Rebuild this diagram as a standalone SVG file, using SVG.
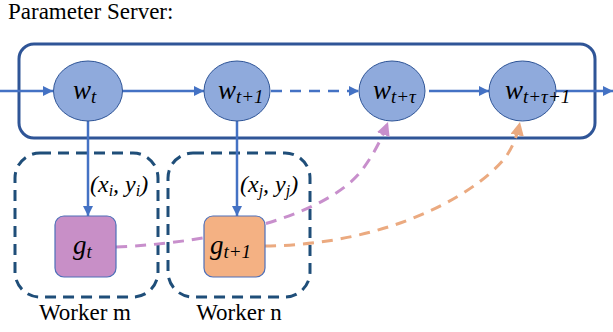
<svg xmlns="http://www.w3.org/2000/svg" width="613" height="332" viewBox="0 0 613 332">
<style>
.node{fill:#8FAADC;stroke:#2F5597;stroke-width:1}
.math{font-family:"Liberation Serif","DejaVu Serif",serif;font-style:italic;fill:#000}
.lbl{font-family:"Liberation Serif","Times New Roman",serif;font-size:23px;fill:#000}
.arr{stroke:#4472C4;stroke-width:2.5;fill:none}
.worker{fill:none;stroke:#1F4E79;stroke-width:3;stroke-dasharray:11 7}
</style>
<defs>
<marker id="ah" viewBox="0 0 10 10" refX="10" refY="5" markerWidth="4" markerHeight="4" orient="auto" markerUnits="strokeWidth">
<path d="M0,0 L10,5 L0,10 z" fill="#4472C4"/>
</marker>
<marker id="ahp" viewBox="0 0 10 10" refX="10" refY="5" markerWidth="4.5" markerHeight="4.5" orient="auto" markerUnits="strokeWidth">
<path d="M0,0 L10,5 L0,10 z" fill="#C88FCC"/>
</marker>
<marker id="aho" viewBox="0 0 10 10" refX="10" refY="5" markerWidth="4.5" markerHeight="4.5" orient="auto" markerUnits="strokeWidth">
<path d="M0,0 L10,5 L0,10 z" fill="#EBAA80"/>
</marker>
</defs>
<rect width="613" height="332" fill="#fff"/>
<text class="lbl" x="8" y="19">Parameter Server:</text>
<rect id="server" x="19" y="44" width="576" height="94" rx="15" fill="none" stroke="#2F5597" stroke-width="3"/>
<g id="worker-m"><rect class="worker" x="15" y="153" width="143" height="144" rx="25"/><text class="lbl" x="85" y="320" text-anchor="middle">Worker m</text></g>
<g id="worker-n"><rect class="worker" x="168" y="153" width="142" height="144" rx="25"/><text class="lbl" x="239" y="320" text-anchor="middle">Worker n</text></g>
<g id="connectors">
<line class="arr" x1="0" y1="91" x2="53" y2="91" marker-end="url(#ah)"/>
<line class="arr" x1="122" y1="91" x2="204" y2="91" marker-end="url(#ah)"/>
<line class="arr" x1="271" y1="91" x2="359" y2="91" stroke-dasharray="11 8" marker-end="url(#ah)"/>
<line class="arr" x1="429" y1="91" x2="489" y2="91" marker-end="url(#ah)"/>
<line class="arr" x1="556" y1="91" x2="613" y2="91" marker-end="url(#ah)"/>
<line class="arr" x1="88" y1="121" x2="88" y2="216" marker-end="url(#ah)"/>
<line class="arr" x1="237" y1="121" x2="237" y2="216" marker-end="url(#ah)"/>
<path d="M116,247 C230,242 330,212 362,170 C374,154 382,138 388,122" fill="none" stroke="#C88FCC" stroke-width="3" stroke-dasharray="11 8" marker-end="url(#ahp)"/>
<path d="M265,246 C380,245 470,200 505,158 C513,147 517,136 520,122" fill="none" stroke="#EBAA80" stroke-width="3" stroke-dasharray="11 8" marker-end="url(#aho)"/>
</g>
<g id="w_t"><ellipse class="node" cx="88" cy="91" rx="34.5" ry="30"/><text class="math" x="73" y="99" font-size="27">w<tspan font-size="19" dy="4">t</tspan></text></g>
<g id="w_t1"><ellipse class="node" cx="237" cy="91" rx="33" ry="30"/><text class="math" x="218" y="99" font-size="27">w<tspan font-size="19" dy="4">t+1</tspan></text></g>
<g id="w_ttau"><ellipse class="node" cx="392" cy="91" rx="33" ry="30"/><text class="math" x="373" y="99" font-size="27">w<tspan font-size="19" dy="4">t+τ</tspan></text></g>
<g id="w_ttau1"><ellipse class="node" cx="522.5" cy="91" rx="33.5" ry="30"/><text class="math" x="505" y="99" font-size="27">w<tspan font-size="19" dy="4">t+τ+1</tspan></text></g>
<g id="g_t"><rect x="55" y="216" width="61" height="61" rx="9" fill="#C88FC7" stroke="#4E6FB8" stroke-width="1.2"/><text class="math" x="73" y="254" font-size="27">g<tspan font-size="19" dy="4">t</tspan></text></g>
<g id="g_t1"><rect x="204" y="216" width="61" height="61" rx="9" fill="#F4B183" stroke="#4E6FB8" stroke-width="1.2"/><text class="math" x="210" y="254" font-size="27">g<tspan font-size="19" dy="4">t+1</tspan></text></g>
<text class="math" x="90" y="192" font-size="24">(x<tspan font-size="16" dy="4">i</tspan><tspan dy="-4">, y</tspan><tspan font-size="16" dy="4">i</tspan><tspan dy="-4">)</tspan></text>
<text class="math" x="240" y="192" font-size="24">(x<tspan font-size="16" dy="4">j</tspan><tspan dy="-4">, y</tspan><tspan font-size="16" dy="4">j</tspan><tspan dy="-4">)</tspan></text>
</svg>
